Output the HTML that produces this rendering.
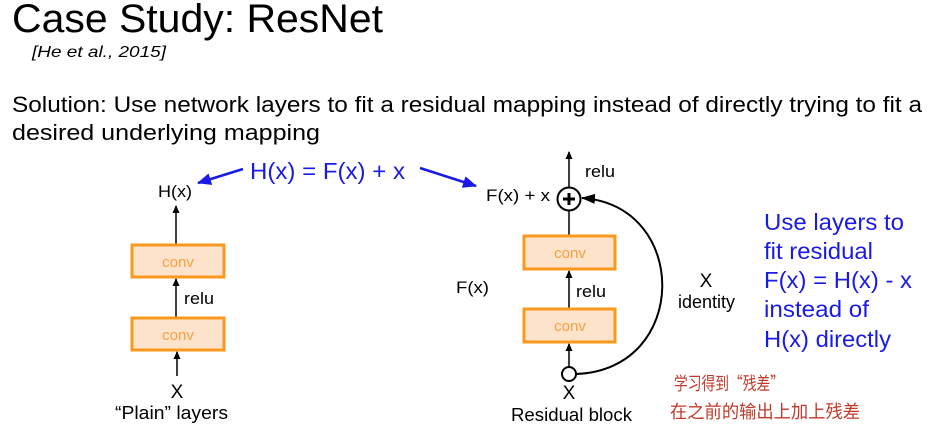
<!DOCTYPE html>
<html><head><meta charset="utf-8"><style>
html,body{margin:0;padding:0;background:#fff}
svg{display:block}
text{font-family:"Liberation Sans",Arial,sans-serif}
</style></head><body>
<svg width="946" height="444" viewBox="0 0 946 444" xmlns="http://www.w3.org/2000/svg">
<defs>
<marker id="ak" markerWidth="8" markerHeight="8" refX="7" refY="4" orient="auto" markerUnits="userSpaceOnUse"><path d="M0,0.5 L8,4 L0,7.5 Z" fill="#000"/></marker>
<marker id="ab" markerWidth="14" markerHeight="12" refX="13" refY="6" orient="auto" markerUnits="userSpaceOnUse"><path d="M0,0 L14,6 L0,12 Z" fill="#1a1ae6"/></marker>
<marker id="ak2" markerWidth="14" markerHeight="12" refX="13" refY="6" orient="auto" markerUnits="userSpaceOnUse"><path d="M0,1 L14,6 L0,11 Z" fill="#000"/></marker>
</defs>
<text x="12" y="32" font-size="40" textLength="371" lengthAdjust="spacingAndGlyphs">Case Study: ResNet</text>
<text x="32" y="57" font-size="16" font-style="italic" textLength="134" lengthAdjust="spacingAndGlyphs">[He et al., 2015]</text>
<text x="12" y="112" font-size="22" textLength="910" lengthAdjust="spacingAndGlyphs">Solution: Use network layers to fit a residual mapping instead of directly trying to fit a</text>
<text x="12" y="140" font-size="22" textLength="308" lengthAdjust="spacingAndGlyphs">desired underlying mapping</text>

<text x="250" y="179" font-size="23" fill="#1a1ae6" textLength="155" lengthAdjust="spacingAndGlyphs">H(x) = F(x) + x</text>
<line x1="243" y1="169" x2="198" y2="183" stroke="#1a1ae6" stroke-width="2.5" marker-end="url(#ab)"/>
<line x1="420" y1="168" x2="476" y2="186" stroke="#1a1ae6" stroke-width="2.5" marker-end="url(#ab)"/>

<text x="158" y="197" font-size="17" textLength="34" lengthAdjust="spacingAndGlyphs">H(x)</text>
<line x1="176" y1="245" x2="176" y2="206" stroke="#000" stroke-width="1.5" marker-end="url(#ak)"/>
<rect x="132" y="245" width="92" height="32" fill="#fde3cc" stroke="#f8991d" stroke-width="3"/>
<text x="178" y="267" font-size="15" fill="#f8a040" text-anchor="middle">conv</text>
<line x1="176" y1="318" x2="176" y2="279" stroke="#000" stroke-width="1.5" marker-end="url(#ak)"/>
<text x="184" y="304" font-size="17" textLength="30" lengthAdjust="spacingAndGlyphs">relu</text>
<rect x="132" y="318" width="92" height="32" fill="#fde3cc" stroke="#f8991d" stroke-width="3"/>
<text x="178" y="340" font-size="15" fill="#f8a040" text-anchor="middle">conv</text>
<line x1="177" y1="376" x2="177" y2="352" stroke="#000" stroke-width="1.5" marker-end="url(#ak)"/>
<text x="177" y="398" font-size="19" text-anchor="middle">X</text>
<text x="115" y="419" font-size="18" textLength="113" lengthAdjust="spacingAndGlyphs">“Plain” layers</text>

<text x="456" y="293" font-size="17" textLength="33" lengthAdjust="spacingAndGlyphs">F(x)</text>
<text x="486" y="201" font-size="17" textLength="64" lengthAdjust="spacingAndGlyphs">F(x) + x</text>
<line x1="569" y1="187" x2="569" y2="152" stroke="#000" stroke-width="1.5" marker-end="url(#ak)"/>
<text x="585" y="177" font-size="17" textLength="30" lengthAdjust="spacingAndGlyphs">relu</text>
<circle cx="569" cy="199" r="11.5" fill="#fff" stroke="#000" stroke-width="2"/>
<line x1="563" y1="199" x2="575" y2="199" stroke="#000" stroke-width="3"/>
<line x1="569" y1="193" x2="569" y2="205" stroke="#000" stroke-width="3"/>
<line x1="569" y1="236" x2="569" y2="211" stroke="#000" stroke-width="1.5"/>
<rect x="524" y="236" width="91" height="33" fill="#fde3cc" stroke="#f8991d" stroke-width="3"/>
<text x="570" y="258" font-size="15" fill="#f8a040" text-anchor="middle">conv</text>
<line x1="569" y1="309" x2="569" y2="271" stroke="#000" stroke-width="1.5" marker-end="url(#ak)"/>
<text x="576" y="297" font-size="17" textLength="30" lengthAdjust="spacingAndGlyphs">relu</text>
<rect x="524" y="309" width="91" height="33" fill="#fde3cc" stroke="#f8991d" stroke-width="3"/>
<text x="570" y="331" font-size="15" fill="#f8a040" text-anchor="middle">conv</text>
<line x1="569" y1="367" x2="569" y2="344" stroke="#000" stroke-width="1.5" marker-end="url(#ak)"/>
<circle cx="569" cy="374" r="7" fill="#fff" stroke="#000" stroke-width="2"/>
<path d="M576,374 C690,370 690,205 582,198" fill="none" stroke="#000" stroke-width="2" marker-end="url(#ak2)"/>
<text x="569" y="399" font-size="19" text-anchor="middle">X</text>
<text x="511" y="421" font-size="18" textLength="121" lengthAdjust="spacingAndGlyphs">Residual block</text>
<text x="706" y="287" font-size="19" text-anchor="middle">X</text>
<text x="678" y="308" font-size="18" textLength="57" lengthAdjust="spacingAndGlyphs">identity</text>

<g font-size="23" fill="#1a1ae6">
<text x="764" y="230" textLength="140" lengthAdjust="spacingAndGlyphs">Use layers to</text>
<text x="764" y="259" textLength="109" lengthAdjust="spacingAndGlyphs">fit residual</text>
<text x="764" y="288" textLength="148" lengthAdjust="spacingAndGlyphs">F(x) = H(x) - x</text>
<text x="764" y="317" textLength="105" lengthAdjust="spacingAndGlyphs">instead of</text>
<text x="764" y="347" textLength="127" lengthAdjust="spacingAndGlyphs">H(x) directly</text>
</g>
<g font-size="18" fill="#c0392b">
<text x="674" y="390" style="font-family:'Noto Sans CJK SC',sans-serif" textLength="110" lengthAdjust="spacingAndGlyphs">学习得到“残差”</text>
<text x="670" y="418" style="font-family:'Noto Sans CJK SC',sans-serif" textLength="190" lengthAdjust="spacingAndGlyphs">在之前的输出上加上残差</text>
</g>
</svg>
</body></html>
